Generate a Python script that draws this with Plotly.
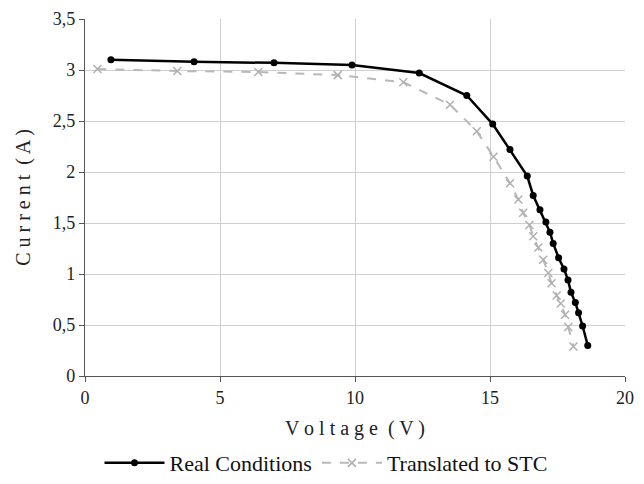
import plotly.graph_objects as go

real_v = [0.96, 4.04, 7.0, 9.89, 12.38, 14.14, 15.1, 15.74, 16.38, 16.6, 16.85, 17.07, 17.22, 17.34,
          17.54, 17.74, 17.89, 18.0, 18.16, 18.28, 18.43, 18.62]
real_i = [3.10, 3.08, 3.07, 3.05, 2.97, 2.75, 2.47, 2.22, 1.96, 1.77, 1.63, 1.51, 1.41, 1.30,
          1.16, 1.05, 0.94, 0.82, 0.72, 0.62, 0.49, 0.30]

stc_v = [0.46, 3.42, 6.42, 9.36, 11.79, 13.52, 14.51, 15.13, 15.74, 16.05, 16.23, 16.46, 16.6, 16.79,
         16.97, 17.16, 17.28, 17.47, 17.62, 17.78, 17.9, 18.09]
stc_i = [3.01, 2.99, 2.98, 2.95, 2.88, 2.66, 2.40, 2.15, 1.89, 1.73, 1.60, 1.48, 1.37, 1.26,
         1.14, 1.01, 0.91, 0.79, 0.71, 0.60, 0.48, 0.29]

x_ticks = [0, 5, 10, 15, 20]
y_ticks = [0, 0.5, 1, 1.5, 2, 2.5, 3, 3.5]

font = "'Liberation Serif', Tinos, 'Times New Roman', 'DejaVu Serif', serif"

fig = go.Figure()
fig.add_trace(go.Scatter(
    x=stc_v, y=stc_i, mode="lines+markers", name="Translated to STC",
    line=dict(color="#b8b8b8", width=2, dash="dash"),
    marker=dict(symbol="x-thin-open", size=8, color="#b0b0b0", line=dict(color="#b0b0b0", width=1.5)),
))
fig.add_trace(go.Scatter(
    x=real_v, y=real_i, mode="lines+markers", name="Real Conditions",
    line=dict(color="#000000", width=2.5),
    marker=dict(symbol="circle", size=7, color="#000000"),
))

fig.update_layout(
    width=636, height=476,
    margin=dict(l=77, r=19, t=11, b=108),
    paper_bgcolor="white", plot_bgcolor="white",
    separators=",.",
    font=dict(family=font, size=18, color="#222222"),
    showlegend=True,
    legend=dict(orientation="h", x=0.5, xanchor="center", xref="container",
                y=0.044, yanchor="middle", yref="container",
                traceorder="reversed", font=dict(family=font, size=22, color="#111111"),
                itemwidth=60),
    xaxis=dict(range=[0, 20], tickvals=x_ticks, showgrid=True, gridcolor="#cfcfcf", gridwidth=1,
               showline=True, linecolor="#555555", linewidth=1.2, ticks="outside", ticklen=5,
               tickcolor="#555555", zeroline=False, automargin=False,
               title=dict(text="V o l t a g e  ( V )", font=dict(family=font, size=20), standoff=14)),
    yaxis=dict(range=[0, 3.5], tickvals=y_ticks, showgrid=True, gridcolor="#cfcfcf", gridwidth=1,
               showline=True, linecolor="#555555", linewidth=1.2, ticks="outside", ticklen=5,
               tickcolor="#555555", zeroline=False, automargin=False,
               title=dict(text="C u r r e n t  ( A )", font=dict(family=font, size=20), standoff=16)),
)

fig.write_html("out.html")
